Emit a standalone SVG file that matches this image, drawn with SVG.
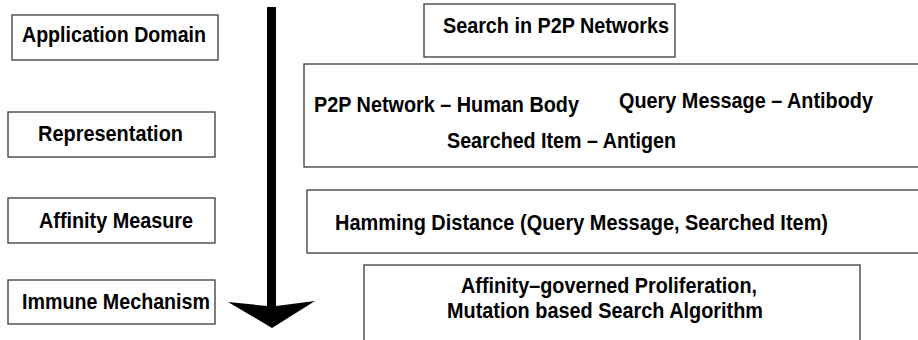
<svg xmlns="http://www.w3.org/2000/svg" width="918" height="340" viewBox="0 0 918 340">
  <style>
    .box { fill: #ffffff; stroke: #3a3a3a; stroke-width: 1.3; }
    .lbl { font-family: "Liberation Sans", Arial, sans-serif; font-weight: bold; font-size: 22.5px; fill: #000000; }
  </style>
  <rect width="918" height="340" fill="#ffffff"/>

  <!-- left column: stages -->
  <g id="stage-application">
    <rect class="box" x="12" y="15" width="206" height="45"/>
    <text class="lbl" x="22" y="42" textLength="184" lengthAdjust="spacingAndGlyphs">Application Domain</text>
  </g>
  <g id="stage-representation">
    <rect class="box" x="8" y="112" width="207" height="45"/>
    <text class="lbl" x="38" y="141" textLength="145" lengthAdjust="spacingAndGlyphs">Representation</text>
  </g>
  <g id="stage-affinity">
    <rect class="box" x="8" y="198" width="207" height="45"/>
    <text class="lbl" x="39" y="228" textLength="154" lengthAdjust="spacingAndGlyphs">Affinity Measure</text>
  </g>
  <g id="stage-mechanism">
    <rect class="box" x="8" y="280" width="207" height="44"/>
    <text class="lbl" x="22" y="309" textLength="188" lengthAdjust="spacingAndGlyphs">Immune Mechanism</text>
  </g>

  <!-- downward flow arrow -->
  <g id="connectors">
    <polygon fill="#000000" points="267,7 276,7 276,306 315,301 272,328 228,302 267,306"/>
  </g>

  <!-- right column: contents -->
  <g id="content-application">
    <rect class="box" x="424" y="4" width="251" height="53"/>
    <text class="lbl" x="443" y="33" textLength="226" lengthAdjust="spacingAndGlyphs">Search in P2P Networks</text>
  </g>
  <g id="content-representation">
    <rect class="box" x="304" y="64" width="630" height="103"/>
    <text class="lbl" x="314" y="112" textLength="265" lengthAdjust="spacingAndGlyphs">P2P Network – Human Body</text>
    <text class="lbl" x="619" y="108" textLength="254" lengthAdjust="spacingAndGlyphs">Query Message – Antibody</text>
    <text class="lbl" x="447" y="148" textLength="229" lengthAdjust="spacingAndGlyphs">Searched Item – Antigen</text>
  </g>
  <g id="content-affinity">
    <rect class="box" x="307" y="190" width="630" height="63"/>
    <text class="lbl" x="335" y="230" textLength="493" lengthAdjust="spacingAndGlyphs">Hamming Distance (Query Message, Searched Item)</text>
  </g>
  <g id="content-mechanism">
    <rect class="box" x="364" y="265" width="496" height="90"/>
    <text class="lbl" x="461" y="293" textLength="296" lengthAdjust="spacingAndGlyphs">Affinity–governed Proliferation,</text>
    <text class="lbl" x="447" y="318" textLength="316" lengthAdjust="spacingAndGlyphs">Mutation based Search Algorithm</text>
  </g>
</svg>
